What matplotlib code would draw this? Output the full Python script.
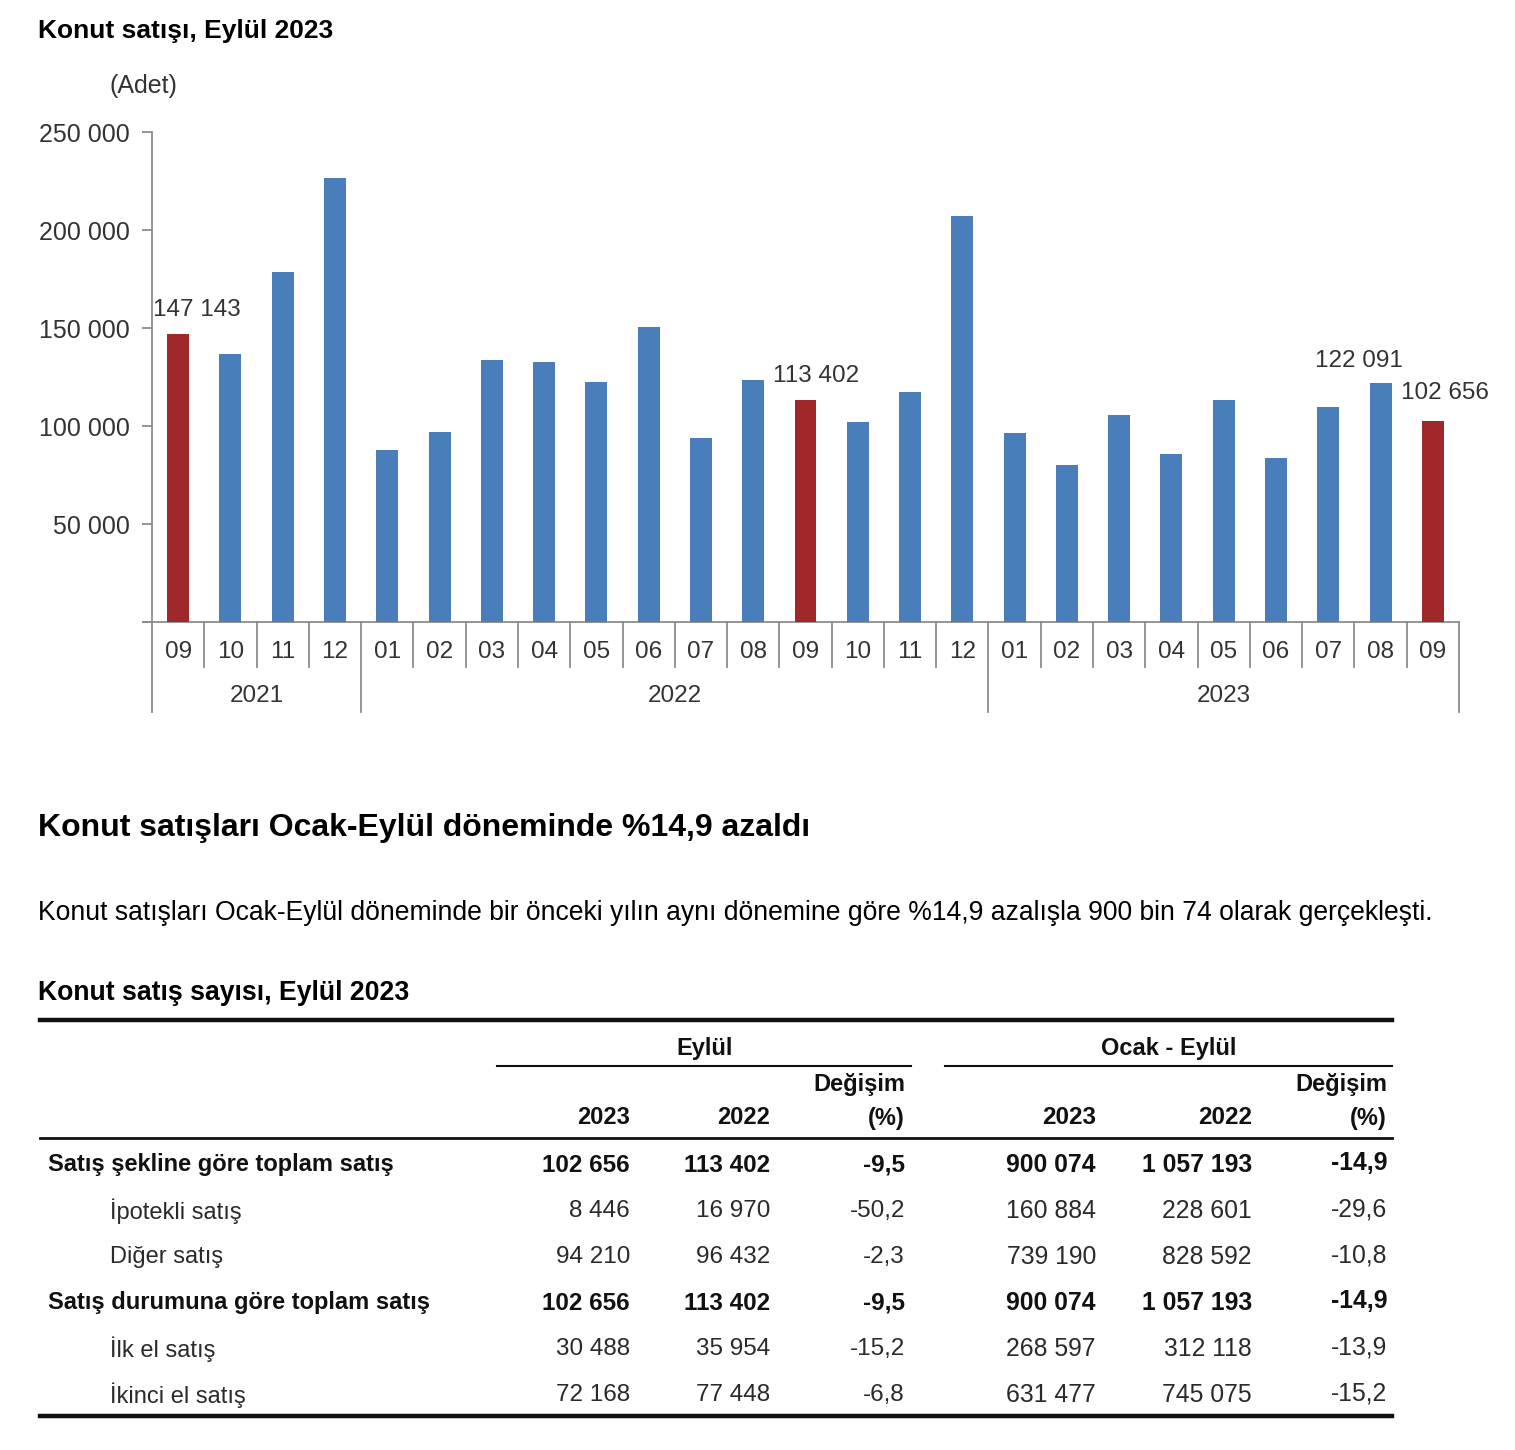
import matplotlib.pyplot as plt
from matplotlib import font_manager
from matplotlib.transforms import blended_transform_factory

# chart data
months = ['09', '10', '11', '12',
          '01', '02', '03', '04', '05', '06', '07', '08', '09', '10', '11', '12',
          '01', '02', '03', '04', '05', '06', '07', '08', '09']
years = ['2021', '2022', '2023']
year_counts = [4, 12, 9]
sales = [147143, 136524, 178771, 226569,
         87878, 96831, 133692, 132643, 122333, 150509, 93988, 123454, 113402, 102171, 117471, 207317,
         96640, 80037, 105476, 85652, 113276, 83819, 109548, 122091, 102656]
highlight = [0, 12, 24]
labelled = [0, 12, 23, 24]

# table data
row_names = ['Satış şekline göre toplam satış', 'İpotekli satış', 'Diğer satış',
             'Satış durumuna göre toplam satış', 'İlk el satış', 'İkinci el satış']
row_bold = [True, False, False, True, False, False]
sep_2023 = ['102 656', '8 446', '94 210', '102 656', '30 488', '72 168']
sep_2022 = ['113 402', '16 970', '96 432', '113 402', '35 954', '77 448']
sep_chg = ['-9,5', '-50,2', '-2,3', '-9,5', '-15,2', '-6,8']
ytd_2023 = ['900 074', '160 884', '739 190', '900 074', '268 597', '631 477']
ytd_2022 = ['1 057 193', '228 601', '828 592', '1 057 193', '312 118', '745 075']
ytd_chg = ['-14,9', '-29,6', '-10,8', '-14,9', '-13,9', '-15,2']

names = {f.name for f in font_manager.fontManager.ttflist}
narrow = 'Liberation Sans Narrow' if 'Liberation Sans Narrow' in names else 'Liberation Sans'
plt.rcParams['font.family'] = ['Liberation Sans', 'DejaVu Sans']

W, H = 1515, 1450
fig = plt.figure(figsize=(W / 100, H / 100), dpi=100)

# overlay in pixel coordinates for texts and table
ov = fig.add_axes([0, 0, 1, 1])
ov.set_xlim(0, W)
ov.set_ylim(H, 0)
ov.axis('off')

blue = '#4A7EBB'
red = '#A0282A'
grey = '#8C8C8C'
txt = '#333333'

ax = fig.add_axes([152 / W, 1 - 622 / H, (1459 - 152) / W, 490 / H])
x = list(range(len(sales)))
colors = [red if i in highlight else blue for i in x]
ax.bar(x, sales, width=0.42, color=colors, zorder=3)
ax.set_xlim(-0.5, len(sales) - 0.5)
ax.set_ylim(0, 250000)
ax.set_yticks(range(0, 250001, 50000))
ax.set_yticklabels([''] + ['{:,}'.format(v).replace(',', ' ') for v in range(50000, 250001, 50000)],
                   fontsize=18, color=txt)
ax.tick_params(axis='y', length=7, width=1.3, color=grey, pad=9)
ax.set_xticks([])
for s in ['top', 'right']:
    ax.spines[s].set_visible(False)
ax.spines['left'].set_color(grey)
ax.spines['left'].set_linewidth(1.3)
ax.spines['bottom'].set_visible(False)

tr = blended_transform_factory(ax.transData, ax.transAxes)
ax.plot([-0.68, len(sales) - 0.5], [0, 0], color=grey, lw=1.3, transform=tr, clip_on=False)
for i, m in enumerate(months):
    ax.text(i, -0.061, m, transform=tr, ha='center', va='center', fontsize=17.5, color=txt)
bounds = [0]
for c in year_counts:
    bounds.append(bounds[-1] + c)
for b in range(len(sales) + 1):
    depth = 0.184 if b in bounds else 0.092
    ax.plot([b - 0.5, b - 0.5], [0, -depth], color=grey, lw=1.3, transform=tr, clip_on=False)
for k, yname in enumerate(years):
    mid = (bounds[k] + bounds[k + 1]) / 2 - 0.5
    ax.text(mid, -0.151, yname, transform=tr, ha='center', va='center', fontsize=17.5, color=txt)

label_dx = {0: 0.35, 12: 0.2, 23: -0.42, 24: 0.23}
label_dy = {0: 12000, 12: 12000, 23: 11000, 24: 14000}
for i in labelled:
    ax.text(i + label_dx[i], sales[i] + label_dy[i], '{:,}'.format(sales[i]).replace(',', ' '),
            ha='center', va='center', fontsize=17.5, color=txt)

ov.text(38, 31, 'Konut satışı, Eylül 2023', fontsize=19, fontweight='bold', va='center')
ov.text(143, 86, '(Adet)', fontsize=18, color=txt, ha='center', va='center')

ov.text(38, 828, 'Konut satışları Ocak-Eylül döneminde %14,9 azaldı', fontsize=23,
        fontweight='bold', va='center')
ov.text(38, 913, 'Konut satışları Ocak-Eylül döneminde bir önceki yılın aynı dönemine göre '
        '%14,9 azalışla 900 bin 74 olarak gerçekleşti.', fontsize=19.1, va='center')
ov.text(38, 993, 'Konut satış sayısı, Eylül 2023', fontsize=19.2, fontweight='bold', va='center')

# table
ink = '#111111'
ov.plot([40, 1392], [1020, 1020], color=ink, lw=3.2)
ov.plot([497, 911], [1066, 1066], color=ink, lw=1.5)
ov.plot([945, 1392], [1066, 1066], color=ink, lw=1.5)
ov.plot([40, 1392], [1138, 1138], color=ink, lw=2)
ov.plot([40, 1392], [1416, 1416], color=ink, lw=3.2)

ov.text(705, 1048, 'Eylül', family=narrow, fontsize=17, fontweight='bold', ha='center', va='center', color=ink)
ov.text(1169, 1048, 'Ocak - Eylül', fontsize=17, fontweight='bold', ha='center', va='center', color=ink)
ov.text(905, 1084, 'Değişim', family=narrow, fontsize=17, fontweight='bold', ha='right', va='center', color=ink)
ov.text(1387, 1084, 'Değişim', fontsize=17, fontweight='bold', ha='right', va='center', color=ink)
ov.text(905, 1118, '(%)', family=narrow, fontsize=17, fontweight='bold', ha='right', va='center', color=ink)
ov.text(1387, 1118, '(%)', fontsize=17, fontweight='bold', ha='right', va='center', color=ink)
ov.text(630, 1118, '2023', family=narrow, fontsize=17, fontweight='bold', ha='right', va='center', color=ink)
ov.text(770, 1118, '2022', family=narrow, fontsize=17, fontweight='bold', ha='right', va='center', color=ink)
ov.text(1096, 1118, '2023', fontsize=17.5, fontweight='bold', ha='right', va='center', color=ink)
ov.text(1252, 1118, '2022', fontsize=17.5, fontweight='bold', ha='right', va='center', color=ink)

row_y = [1165, 1211, 1257, 1303, 1349, 1395]
for r, yy in enumerate(row_y):
    w = 'bold' if row_bold[r] else 'normal'
    c = ink if row_bold[r] else '#2a2a2a'
    ov.text(48 if row_bold[r] else 110, yy, row_names[r], family=narrow, fontsize=17,
            fontweight=w, ha='left', va='center', color=c)
    ov.text(630, yy, sep_2023[r], family=narrow, fontsize=17.5, fontweight=w, ha='right', va='center', color=c)
    ov.text(770, yy, sep_2022[r], family=narrow, fontsize=17.5, fontweight=w, ha='right', va='center', color=c)
    ov.text(905, yy, sep_chg[r], family=narrow, fontsize=17.5, fontweight=w, ha='right', va='center', color=c)
    ov.text(1096, yy, ytd_2023[r], fontsize=17.8, fontweight=w, ha='right', va='center', color=c)
    ov.text(1252, yy, ytd_2022[r], fontsize=17.8, fontweight=w, ha='right', va='center', color=c)
    ov.text(1387, yy - 2, ytd_chg[r], fontsize=17.8, fontweight=w, ha='right', va='center', color=c)

fig.savefig('out.png', dpi=100, facecolor='white')
